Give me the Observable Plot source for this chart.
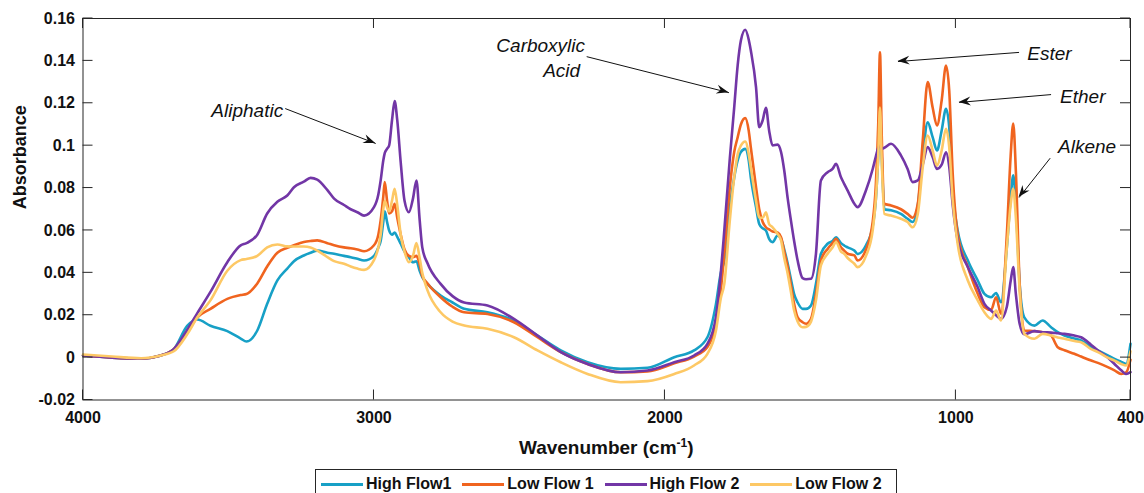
<!DOCTYPE html>
<html>
<head>
<meta charset="utf-8">
<script src="https://cdn.jsdelivr.net/npm/d3@7"></script>
<script src="https://cdn.jsdelivr.net/npm/@observablehq/plot@0.6"></script>
<style>
  html, body { margin: 0; padding: 0; background: #fff; overflow: hidden; }
  body { width: 1144px; height: 493px; position: relative; font-family: "Liberation Sans", Arial, Helvetica, sans-serif; }
  #legend {
    position: absolute; left: 315px; top: 469px; width: 582px; height: 30px;
    border: 1px solid #262626; box-sizing: border-box; display: flex; align-items: center;
    padding-left: 5px; font-weight: bold; font-size: 16px; color: #111; background: #fff;
  }
  #legend .item { display: flex; align-items: center; margin-right: 11px; }
  #legend .swatch { width: 42px; height: 3px; margin-right: 3px; }
</style>
</head>
<body>
<div id="chart"></div>
<div id="legend"></div>
<script>
// ---- Data ----
const wavenumber = [
  4000, 3900, 3800, 3733, 3688, 3642, 3607,
  3562, 3504, 3458, 3438, 3401, 3367, 3332, 3298, 3275, 3241, 3218, 3195, 3160, 3137, 3103, 3080, 3057, 3034, 3000,
  2985, 2977, 2968, 2963, 2955, 2948, 2938, 2929, 2920, 2908, 2895, 2880, 2866, 2854, 2843, 2834, 2816, 2771, 2730, 2690,
  2610, 2519, 2438, 2358, 2266, 2152, 2060, 1968, 1900, 1854, 1825, 1808,
  1796, 1777, 1762, 1750, 1739, 1724, 1712, 1705, 1687, 1676, 1664, 1653, 1642, 1630, 1613, 1601, 1590, 1578, 1567, 1556, 1544, 1527, 1515, 1498, 1481, 1464, 1441, 1424, 1412, 1395, 1384, 1372, 1349, 1338,
  1309, 1286, 1275, 1267, 1261, 1255, 1246, 1223, 1189, 1166, 1149, 1131, 1114, 1097, 1080, 1065, 1049, 1034, 1023, 1011, 994, 959, 925, 902, 879, 862, 845,
  825, 812, 803, 794, 781, 765, 730, 702, 673, 650, 627, 593, 570, 535, 512, 478, 455, 432, 415, 400
];

const highFlow1 = [
  0.001, 0.0, -0.0005, 0.001, 0.004, 0.015, 0.018,
  0.015, 0.0125, 0.009, 0.0076, 0.0128, 0.0254, 0.0364, 0.042, 0.0455, 0.0482, 0.0495, 0.0505, 0.0495, 0.049, 0.048, 0.0474, 0.0466, 0.0458, 0.048,
  0.052, 0.055, 0.064, 0.069, 0.064, 0.060, 0.058, 0.059, 0.057, 0.0537, 0.050, 0.0474, 0.045, 0.0455, 0.041, 0.038, 0.0348, 0.0293, 0.026, 0.023,
  0.0214, 0.0175, 0.0104, 0.0034, -0.0022, -0.0053, -0.0048, 0.0002, 0.0034, 0.0096, 0.025, 0.040,
  0.0458, 0.071, 0.085, 0.093, 0.097, 0.0985, 0.093, 0.0851, 0.071, 0.063, 0.061, 0.060, 0.056, 0.0545, 0.0576, 0.056, 0.051, 0.0443, 0.037, 0.030, 0.026, 0.023, 0.023, 0.0246, 0.0348, 0.049, 0.0537, 0.055, 0.0568, 0.054, 0.0529, 0.052, 0.0505, 0.0489,
  0.053, 0.062, 0.075, 0.095, 0.117, 0.095, 0.070, 0.0695, 0.0678, 0.0655, 0.064, 0.0718, 0.0946, 0.111, 0.104, 0.0977, 0.1072, 0.1174, 0.1087, 0.0788, 0.060, 0.0458, 0.0364, 0.0301, 0.0285, 0.0305, 0.0261,
  0.052, 0.075, 0.086, 0.072, 0.0348, 0.019, 0.0151, 0.0175, 0.0143, 0.012, 0.0104, 0.009, 0.0081, 0.005, 0.0034, 0.001, -0.0006, -0.002, -0.003, 0.0065
];

const lowFlow1 = [
  0.001, 0.0, -0.0005, 0.001, 0.004, 0.012, 0.019,
  0.023, 0.0277, 0.0295, 0.030, 0.035, 0.043, 0.0495, 0.0518, 0.053, 0.0545, 0.055, 0.0553, 0.054, 0.053, 0.052, 0.0516, 0.051, 0.0502, 0.053,
  0.058, 0.0647, 0.076, 0.0828, 0.074, 0.068, 0.069, 0.0726, 0.066, 0.058, 0.051, 0.048, 0.0474, 0.048, 0.044, 0.0385, 0.035, 0.0285, 0.024, 0.0214,
  0.0206, 0.0167, 0.0096, 0.0026, -0.003, -0.0069, -0.0065, -0.0027, 0.0005, 0.005, 0.016, 0.032,
  0.049, 0.0804, 0.097, 0.104, 0.110, 0.113, 0.107, 0.0993, 0.0804, 0.070, 0.064, 0.0615, 0.0605, 0.0595, 0.059, 0.0568, 0.050, 0.0427, 0.034, 0.0254, 0.019, 0.0167, 0.016, 0.0183, 0.030, 0.0458, 0.0513, 0.054, 0.056, 0.052, 0.0505, 0.049, 0.0482, 0.0458,
  0.051, 0.064, 0.082, 0.110, 0.144, 0.105, 0.0726, 0.0718, 0.070, 0.0678, 0.066, 0.0726, 0.1024, 0.130, 0.118, 0.1095, 0.1213, 0.1378, 0.126, 0.0867, 0.0584, 0.0427, 0.0301, 0.0238, 0.0225, 0.0285, 0.0207,
  0.058, 0.095, 0.1104, 0.088, 0.0348, 0.0128, 0.0125, 0.012, 0.0104, 0.0049, 0.0035, 0.0018, 0.0005, -0.0014, -0.0025, -0.0045, -0.006, -0.0077, -0.007, -0.001
];

const highFlow2 = [
  0.001, 0.0, -0.0005, 0.001, 0.004, 0.013, 0.021,
  0.031, 0.045, 0.053, 0.054, 0.058, 0.068, 0.0735, 0.0765, 0.0804, 0.083, 0.0848, 0.084, 0.079, 0.075, 0.072, 0.070, 0.0686, 0.067, 0.071,
  0.077, 0.0836, 0.093, 0.0965, 0.0985, 0.100, 0.112, 0.121, 0.112, 0.092, 0.074, 0.0686, 0.075, 0.0836, 0.065, 0.052, 0.0445, 0.0348, 0.029, 0.026,
  0.0246, 0.0183, 0.0104, 0.0026, -0.003, -0.0069, -0.0061, -0.0022, 0.001, 0.0065, 0.019, 0.040,
  0.060, 0.094, 0.118, 0.138, 0.1496, 0.1547, 0.150, 0.145, 0.1276, 0.1087, 0.112, 0.1179, 0.1072, 0.1001, 0.1005, 0.097, 0.0883, 0.075, 0.0647, 0.055, 0.0458, 0.0375, 0.037, 0.0372, 0.049, 0.0836, 0.0875, 0.089, 0.0914, 0.0851, 0.082, 0.0788, 0.0726, 0.071,
  0.079, 0.089, 0.095, 0.099, 0.100, 0.0985, 0.099, 0.1009, 0.0954, 0.089, 0.0828, 0.0836, 0.091, 0.0993, 0.0946, 0.089, 0.091, 0.0969, 0.090, 0.072, 0.0553, 0.0427, 0.0332, 0.0254, 0.0222, 0.020, 0.0183,
  0.024, 0.036, 0.0427, 0.030, 0.016, 0.011, 0.0125, 0.012, 0.0118, 0.0115, 0.0112, 0.0104, 0.0096, 0.006, 0.0034, 0.0, -0.003, -0.006, -0.0077, -0.0069
];

const lowFlow2 = [
  0.0015, 0.0005, -0.0003, 0.001, 0.003, 0.011, 0.019,
  0.027, 0.041, 0.046, 0.0465, 0.048, 0.052, 0.0534, 0.0525, 0.0524, 0.0524, 0.052, 0.0505, 0.0474, 0.0455, 0.0443, 0.043, 0.042, 0.0414, 0.046,
  0.052, 0.058, 0.070, 0.074, 0.071, 0.069, 0.074, 0.0796, 0.072, 0.058, 0.050, 0.045, 0.048, 0.054, 0.047, 0.040, 0.0317, 0.0214, 0.017, 0.0151,
  0.0136, 0.0096, 0.0034, -0.0022, -0.0077, -0.0116, -0.0111, -0.0077, -0.0037, 0.0018, 0.0125, 0.028,
  0.0348, 0.0647, 0.085, 0.096, 0.100, 0.102, 0.096, 0.0898, 0.074, 0.066, 0.066, 0.0686, 0.063, 0.0615, 0.0584, 0.0553, 0.047, 0.0395, 0.031, 0.0222, 0.017, 0.0143, 0.0145, 0.017, 0.027, 0.0435, 0.049, 0.052, 0.0545, 0.050, 0.049, 0.047, 0.0443, 0.0427,
  0.048, 0.060, 0.075, 0.095, 0.118, 0.093, 0.0678, 0.067, 0.0655, 0.064, 0.0615, 0.0678, 0.0898, 0.1048, 0.0977, 0.0906, 0.0977, 0.108, 0.0993, 0.074, 0.0537, 0.0364, 0.027, 0.0214, 0.0183, 0.0222, 0.0175,
  0.052, 0.072, 0.0796, 0.066, 0.0317, 0.0112, 0.0089, 0.0112, 0.0104, 0.0095, 0.0089, 0.0078, 0.0073, 0.004, 0.0026, 0.0, -0.0014, -0.003, -0.0037, 0.003
];

const seriesNames = ["High Flow1", "Low Flow 1", "High Flow 2", "Low Flow 2"];
const seriesColors = ["#17a0c6", "#f0641f", "#7236a6", "#fdc865"];

const xTickValues = [4000, 3000, 2000, 1000, 400];
const yTickValues = [-0.02, 0, 0.02, 0.04, 0.06, 0.08, 0.1, 0.12, 0.14, 0.16];

const annotationLabels = ["Aliphatic", "Carboxylic", "Acid", "Ester", "Ether", "Alkene"];
const annotationX = [3312, 2427, 2355, 755, 642, 649];
const annotationY = [0.1166, 0.1473, 0.1355, 0.1435, 0.1232, 0.0992];
const annotationAnchor = ["end", "middle", "middle", "start", "start", "start"];

const arrowX1 = [3305, 2269, 783, 673, 676];
const arrowY1 = [0.1175, 0.142, 0.144, 0.1241, 0.0941];
const arrowX2 = [2994, 1780, 1199, 989, 783];
const arrowY2 = [0.101, 0.125, 0.1397, 0.1204, 0.0755];

(function () {
  // ---- Build tables ----
  const seriesValues = [highFlow1, lowFlow1, highFlow2, lowFlow2];
  const rows = [];
  seriesNames.forEach((name, i) => {
    wavenumber.forEach((w, j) => rows.push({series: name, w, a: seriesValues[i][j]}));
  });
  const annotations = annotationLabels.map((t, i) => ({t, x: annotationX[i], y: annotationY[i], anchor: annotationAnchor[i]}));
  const arrows = arrowX1.map((x1, i) => ({x1, y1: arrowY1[i], x2: arrowX2[i], y2: arrowY2[i]}));

  const W = 1144, H = 465;
  const mL = 82.5, mR = 14, mT = 18, mB = 65.5;
  const frameW = W - mL - mR;
  const tickLen = 10;
  const axisColor = "#262626";
  const fmt = d => String(+d.toFixed(2));
  const annText = anchor => Plot.text(annotations.filter(d => d.anchor === anchor), {
    x: "x", y: "y", text: "t", textAnchor: anchor, fontStyle: "italic", fontWeight: "normal", fontSize: 19, fill: "#111"
  });

  const plot = Plot.plot({
    width: W, height: H,
    marginLeft: mL, marginRight: mR, marginTop: mT, marginBottom: mB,
    style: {fontFamily: '"Liberation Sans", Arial, Helvetica, sans-serif', fontSize: "16px", fontWeight: "bold", color: "#111", background: "#fff"},
    x: {domain: [4000, 400]},
    y: {domain: [-0.02, 0.16]},
    color: {domain: seriesNames, range: seriesColors},
    marks: [
      Plot.line(rows, {x: "w", y: "a", z: "series", stroke: "series", strokeWidth: 2.6, curve: "monotone-x"}),
      Plot.frame({stroke: axisColor, strokeWidth: 1}),
      Plot.axisX({ticks: xTickValues, tickSize: 0, tickPadding: 12, tickFormat: d => String(d), label: null, fill: "#111"}),
      Plot.axisY({ticks: yTickValues, tickSize: 0, tickPadding: 8, tickFormat: fmt, label: null, fill: "#111"}),
      Plot.link(arrows, {x1: "x1", y1: "y1", x2: "x2", y2: "y2", stroke: "#111", strokeWidth: 1}),
      annText("end"), annText("middle"), annText("start"),
      Plot.text(["Absorbance"], {frameAnchor: "left", dx: -62.5, rotate: -90, fontSize: 18, fontWeight: "bold", fill: "#111"})
    ]
  });

  document.getElementById("chart").appendChild(plot);
  const svg = d3.select(plot);
  const sx = v => plot.scale("x").apply(v);
  const sy = v => plot.scale("y").apply(v);
  const yTop = mT, yBottom = H - mB, xLeft = mL, xRight = W - mR;

  // inward (MATLAB-style) ticks on all four sides, placed through the plot's scales
  const tg = svg.append("g").attr("stroke", axisColor).attr("stroke-width", 1);
  xTickValues.forEach(v => {
    const x = sx(v);
    tg.append("line").attr("x1", x).attr("x2", x).attr("y1", yBottom).attr("y2", yBottom - tickLen);
    tg.append("line").attr("x1", x).attr("x2", x).attr("y1", yTop).attr("y2", yTop + tickLen);
  });
  yTickValues.forEach(v => {
    const y = sy(v);
    tg.append("line").attr("y1", y).attr("y2", y).attr("x1", xLeft).attr("x2", xLeft + tickLen);
    tg.append("line").attr("y1", y).attr("y2", y).attr("x1", xRight).attr("x2", xRight - tickLen);
  });

  // filled arrowheads at the arrow tips
  const hg = svg.append("g").attr("fill", "#111");
  arrows.forEach(a => {
    const x1 = sx(a.x1), y1 = sy(a.y1), x2 = sx(a.x2), y2 = sy(a.y2);
    const len = Math.hypot(x2 - x1, y2 - y1);
    const ux = (x2 - x1) / len, uy = (y2 - y1) / len;
    const nx = -uy, ny = ux;
    const L = 12, Wd = 9, N = 8;
    const p = [
      [x2, y2],
      [x2 - ux * L + nx * Wd / 2, y2 - uy * L + ny * Wd / 2],
      [x2 - ux * N, y2 - uy * N],
      [x2 - ux * L - nx * Wd / 2, y2 - uy * L - ny * Wd / 2]
    ];
    hg.append("path").attr("d", "M" + p.map(q => q.join(",")).join("L") + "Z");
  });

  // x-axis label with superscript
  const xl = svg.append("text")
    .attr("x", mL + frameW / 2).attr("y", 454)
    .attr("text-anchor", "middle")
    .style("font-size", "19px").style("font-weight", "bold").attr("fill", "#111");
  xl.append("tspan").text("Wavenumber (cm");
  xl.append("tspan").text("-1").attr("dy", -7).style("font-size", "12px");
  xl.append("tspan").text(")").attr("dy", 7);

  // Legend
  const legend = d3.select("#legend");
  seriesNames.forEach((name, i) => {
    const item = legend.append("div").attr("class", "item");
    item.append("div").attr("class", "swatch").style("background", seriesColors[i]);
    item.append("span").text(name);
  });
})();
</script>
</body>
</html>
